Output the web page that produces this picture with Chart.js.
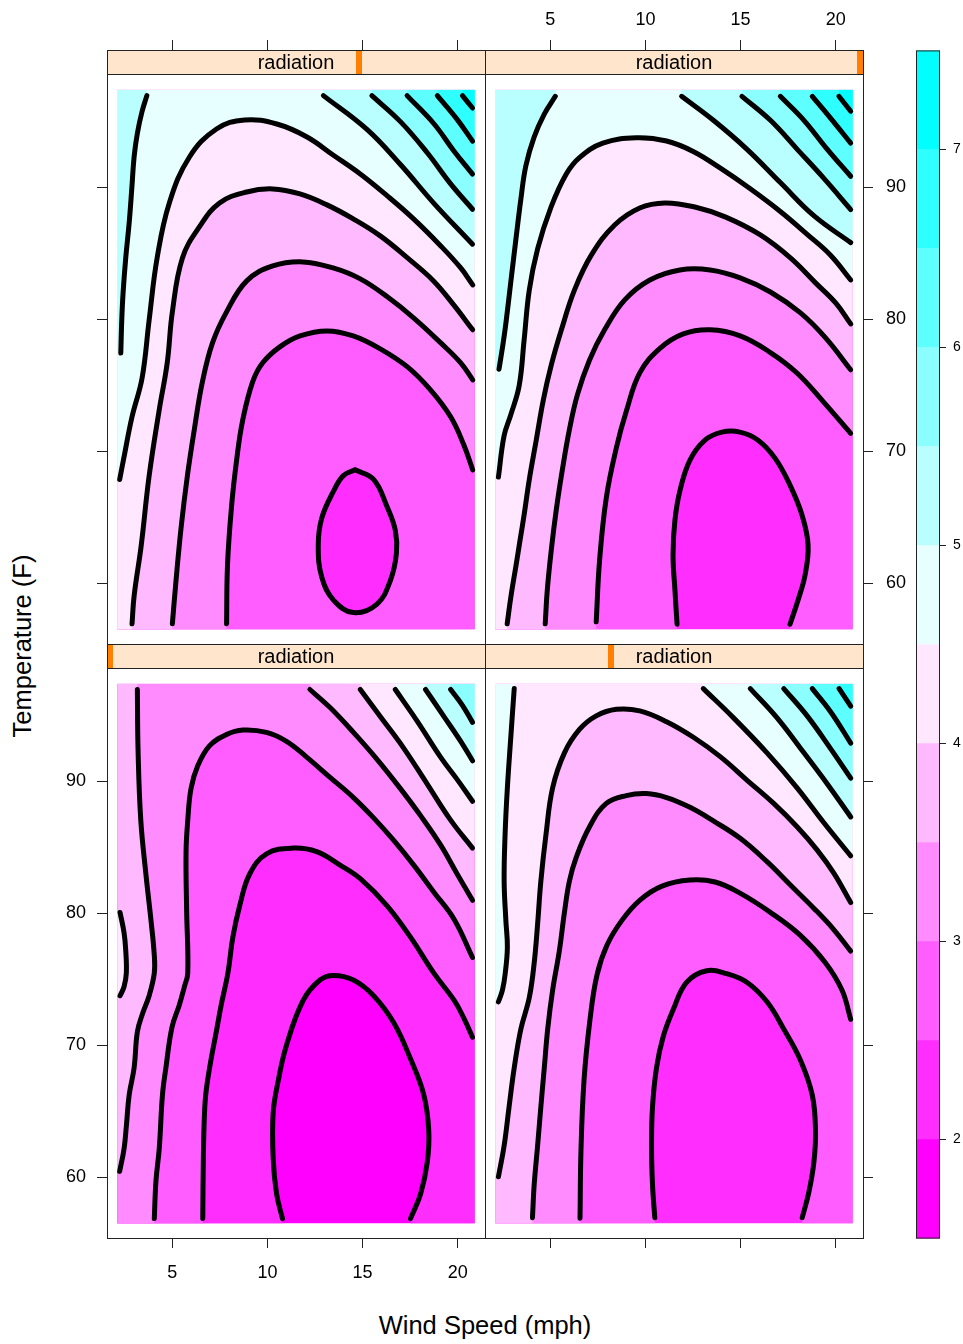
<!DOCTYPE html>
<html>
<head>
<meta charset="utf-8">
<script src="https://cdn.jsdelivr.net/npm/chart.js@4.4.0/dist/chart.umd.min.js"></script>
<style>
  html, body { margin: 0; padding: 0; background: #fff; }
  #page { position: relative; width: 963px; height: 1344px; overflow: hidden; background: #fff; }
  canvas { position: absolute; }
  .title { position: absolute; font-family: 'Liberation Sans', Arial, Helvetica, sans-serif; font-size: 25.5px; color: #000; white-space: nowrap; }
</style>
</head>
<body>
<div id="page">
  <canvas id="p-tl"></canvas>
  <canvas id="p-tr"></canvas>
  <canvas id="p-bl"></canvas>
  <canvas id="p-br"></canvas>
  <canvas id="key"></canvas>
  <div class="title" style="left:485px; top:1325px; transform:translate(-50%,-50%);">Wind Speed (mph)</div>
  <div class="title" style="left:22px; top:646px; transform:translate(-50%,-50%) rotate(-90deg);">Temperature (F)</div>
</div>
<script>
// Ozone contour levels by wind speed and temperature, four radiation panels

// Axis ticks and colour key
const WIND_TICKS = [5, 10, 15, 20];
const TEMP_TICKS = [60, 70, 80, 90];
const KEY_TICKS = [2, 3, 4, 5, 6, 7];
const LEVEL_BREAKS = [1.5, 2, 2.5, 3, 3.5, 4, 4.5, 5, 5.5, 6, 6.5, 7, 7.5];
const LEVEL_COLORS = ['#ff00ff', '#ff2eff', '#ff5dff', '#ff8bff', '#ffb9ff', '#ffe8ff',
                      '#e8ffff', '#b9ffff', '#8bffff', '#5dffff', '#2effff', '#00ffff'];

// Axis limits and extent of the fitted surface
const WIND_LIM = [1.564, 21.436];
const TEMP_LIM = [55.4, 98.6];
const GRID_WIND = [2.1, 20.9];
const GRID_TEMP = [56.5, 97.4];

// Radiation shingle (panel order: bottom-left, bottom-right, top-left, top-right)
const RADIATION_LIM = [7, 334];
const RADIATION_LEVELS = [7, 116, 225, 334];

// Contour lines, [wind, temperature]
// top-left panel
const TL_25 = [[14.61,68.60],[15.58,67.87],[16.29,65.80],[16.72,64.03],[16.78,62.27],[16.46,60.20],[15.76,58.43],[14.52,57.78],[13.47,58.73],[12.85,60.49],[12.67,62.86],[12.85,64.92],[13.47,66.98],[13.99,68.16]];
const TL_30 = [[7.85,56.93],[7.90,61.40],[8.11,65.80],[8.38,69.36],[8.69,72.31],[9.22,75.27],[9.75,76.71],[10.65,77.92],[11.71,78.75],[13.13,79.13],[14.51,78.75],[15.93,77.77],[17.36,76.40],[18.57,74.66],[19.63,72.62],[20.32,70.50],[20.79,68.60]];
const TL_35 = [[5.00,56.93],[5.21,60.50],[5.47,64.36],[5.79,68.15],[6.16,71.71],[6.58,75.27],[7.11,78.22],[7.85,80.57],[8.91,82.92],[10.28,84.05],[11.86,84.36],[13.45,83.90],[14.88,83.07],[16.30,81.71],[17.68,80.12],[19.11,78.22],[20.16,76.71],[20.79,75.42]];
const TL_40 = [[2.88,56.93],[2.99,59.05],[3.36,62.84],[3.78,68.15],[4.31,73.15],[4.73,76.71],[5.00,80.57],[5.53,84.66],[6.42,87.01],[7.48,88.83],[8.91,89.66],[10.28,89.89],[11.71,89.51],[13.13,88.68],[14.51,87.62],[15.93,86.33],[17.36,84.66],[18.73,82.92],[19.79,81.10],[20.79,79.21]];
const TL_45 = [[2.23,67.87],[2.43,69.36],[2.88,72.62],[3.41,75.57],[3.78,79.96],[4.20,84.66],[4.84,88.83],[5.90,92.31],[7.32,94.43],[8.80,95.12],[10.49,94.81],[12.08,93.83],[13.45,92.46],[14.88,91.02],[16.30,89.36],[17.68,87.62],[19.11,85.57],[20.16,83.90],[20.79,82.62]];
const TL_50A = [[3.66,96.96],[3.40,95.72],[3.16,94.10],[2.99,92.33],[2.87,89.97],[2.73,87.32],[2.55,84.67],[2.41,82.02],[2.34,79.95],[2.29,77.45]];
const TL_50B = [[12.94,96.96],[15.23,94.40],[16.99,91.74],[18.75,88.80],[20.78,85.70]];
const TL_55 = [[15.49,96.96],[16.99,94.99],[18.40,92.63],[19.63,90.27],[20.78,88.35]];
const TL_60 = [[17.34,96.96],[18.75,94.83],[19.80,92.77],[20.78,91.01]];
const TL_65 = [[18.93,96.96],[19.98,95.14],[20.78,93.51]];
const TL_70 = [[20.25,96.96],[20.78,96.02]];

// top-right panel
const TR_25 = [[11.66,56.90],[11.55,59.48],[11.45,62.13],[11.55,64.79],[11.82,67.06],[12.34,69.34],[13.13,70.85],[14.02,71.46],[14.97,71.46],[15.92,70.85],[16.81,69.49],[17.60,67.44],[18.23,65.17],[18.55,62.89],[18.39,60.62],[18.02,58.72],[17.60,56.90]];
const TR_30 = [[7.41,57.08],[7.59,61.78],[7.94,66.48],[8.47,70.27],[9.00,73.07],[9.70,75.95],[10.76,77.80],[11.99,78.90],[13.40,79.21],[14.98,78.75],[16.57,77.49],[17.98,75.92],[19.38,73.71],[20.79,71.36]];
const TR_35 = [[4.73,56.93],[4.84,59.51],[5.05,62.54],[5.31,65.57],[5.63,68.60],[6.00,71.63],[6.42,74.28],[7.06,76.93],[7.85,79.21],[8.91,81.48],[10.23,82.99],[11.81,83.75],[13.40,83.75],[14.98,83.15],[16.57,82.08],[18.15,80.49],[19.47,78.60],[20.79,76.18]];
const TR_40 = [[2.73,56.93],[2.94,59.13],[3.20,61.40],[3.41,63.30],[3.62,65.19],[3.89,67.84],[4.26,70.87],[4.63,73.90],[5.05,76.55],[5.58,79.21],[6.27,82.24],[7.16,84.89],[8.38,87.16],[9.70,88.45],[11.02,88.83],[12.60,88.52],[14.19,87.77],[16.04,86.40],[17.62,84.66],[18.94,82.77],[20.00,81.25],[20.79,79.66]];
const TR_45 = [[2.27,68.05],[2.57,71.20],[2.92,72.77],[3.36,74.97],[3.62,78.43],[3.89,82.20],[4.33,85.34],[5.03,88.49],[5.83,91.00],[6.53,92.26],[7.76,93.36],[9.52,93.77],[11.11,93.52],[12.51,92.73],[13.92,91.48],[15.51,89.90],[17.09,88.18],[18.50,86.45],[19.73,84.87],[20.79,82.99]];
const TR_50A = [[5.26,96.91],[4.68,95.56],[4.15,93.83],[3.71,91.63],[3.45,89.12],[3.18,85.97],[2.92,82.83],[2.66,79.68],[2.51,78.12],[2.30,76.23]];
const TR_50B = [[11.90,96.91],[13.57,95.09],[15.34,92.89],[17.09,90.37],[18.85,87.86],[20.79,85.82]];
const TR_55 = [[15.07,96.91],[16.57,95.09],[17.98,92.89],[19.38,90.69],[20.79,88.33]];
const TR_60 = [[17.09,96.91],[18.33,95.09],[19.56,92.89],[20.79,90.85]];
const TR_65 = [[18.77,96.91],[19.74,95.24],[20.79,93.36]];
const TR_70 = [[20.17,96.91],[20.79,95.78]];

// bottom-left panel
const BL_20 = [[10.79,56.87],[10.48,58.74],[10.30,61.47],[10.30,64.88],[10.56,67.27],[11.00,70.01],[11.88,73.42],[12.76,74.95],[13.47,75.30],[14.52,74.95],[15.58,73.76],[16.64,71.71],[17.52,68.98],[18.22,66.25],[18.48,63.52],[18.40,61.13],[18.05,58.74],[17.52,56.87]];
const BL_25 = [[6.60,56.87],[6.63,61.47],[6.69,64.88],[6.78,66.59],[7.04,68.98],[7.31,71.03],[7.57,73.08],[7.92,75.47],[8.18,78.20],[8.54,80.58],[9.06,82.97],[9.95,84.51],[11.35,84.95],[12.59,84.68],[13.82,83.66],[14.88,82.63],[16.29,80.58],[17.52,78.20],[18.75,75.47],[19.81,73.42],[20.33,72.05],[20.78,70.62]];
const BL_30 = [[4.05,56.87],[4.14,59.77],[4.31,62.16],[4.48,66.25],[4.66,68.30],[4.98,71.37],[5.37,73.08],[5.63,74.44],[5.81,75.47],[5.75,80.24],[5.72,84.68],[5.81,87.07],[5.98,89.46],[6.33,91.17],[6.95,92.70],[7.83,93.55],[8.71,93.90],[9.95,93.72],[11.00,93.04],[12.06,91.85],[13.29,90.31],[14.52,88.78],[15.58,87.24],[16.64,85.53],[17.69,83.66],[18.75,81.61],[19.81,79.56],[20.78,76.66]];
const BL_35A = [[3.16,96.97],[3.20,92.19],[3.34,87.07],[3.61,82.97],[3.87,79.56],[4.05,76.83],[4.05,75.47],[3.78,73.76],[3.43,72.40],[3.16,71.03],[2.99,68.30],[2.73,66.25],[2.58,63.86],[2.46,62.16],[2.23,60.45]];
const BL_35B = [[12.23,96.97],[13.29,95.60],[14.52,93.72],[15.76,91.68],[16.99,89.46],[18.05,87.41],[19.10,85.19],[19.98,82.97],[20.78,80.99]];
const BL_40A = [[2.25,80.07],[2.46,78.54],[2.55,77.17],[2.58,75.47],[2.46,74.44],[2.25,73.76]];
const BL_40B = [[14.88,96.97],[15.93,94.92],[17.16,92.53],[18.40,89.80],[19.63,87.07],[20.78,84.95]];
const BL_45 = [[16.72,96.97],[17.87,94.58],[19.10,91.85],[19.98,90.14],[20.78,88.50]];
const BL_50 = [[18.31,96.97],[19.28,94.92],[20.16,93.04],[20.78,91.57]];
const BL_55 = [[19.63,96.97],[20.25,95.77],[20.78,94.48]];

// bottom-right panel
const BR_25 = [[10.49,56.94],[10.37,59.45],[10.32,62.40],[10.37,65.34],[10.58,68.29],[10.93,70.65],[11.46,72.71],[12.16,74.78],[13.22,75.66],[14.28,75.43],[15.33,74.78],[16.39,73.30],[17.27,71.24],[18.15,68.88],[18.77,66.23],[18.94,63.58],[18.86,61.22],[18.59,58.86],[18.24,56.94]];
const BR_30 = [[6.56,56.90],[6.61,62.06],[6.77,67.36],[7.08,71.91],[7.45,75.32],[7.98,77.60],[8.77,79.49],[9.71,81.01],[10.87,82.07],[12.34,82.53],[13.66,82.38],[14.97,81.54],[16.55,80.10],[18.13,78.36],[19.44,76.30],[20.33,74.19],[20.79,71.98]];
const BR_35 = [[4.06,56.94],[4.15,59.45],[4.33,62.40],[4.50,65.34],[4.68,68.29],[4.86,71.24],[5.12,74.19],[5.47,77.14],[5.74,80.08],[6.00,82.44],[6.35,84.21],[7.06,86.57],[7.94,88.34],[8.99,88.93],[10.05,89.08],[11.11,88.78],[12.34,88.04],[13.57,87.01],[14.98,85.69],[16.39,83.92],[17.62,82.15],[18.86,80.38],[19.91,78.76],[20.79,77.14]];
const BR_40 = [[2.27,60.04],[2.57,62.40],[2.83,65.34],[3.10,68.29],[3.45,71.24],[3.89,73.60],[4.15,76.25],[4.33,79.20],[4.50,82.44],[4.77,85.98],[5.12,89.52],[5.74,92.17],[6.53,93.94],[7.41,94.97],[8.47,95.47],[9.70,95.35],[11.11,94.53],[12.52,93.35],[13.93,91.88],[15.33,90.11],[16.74,88.34],[17.97,86.57],[19.03,84.80],[19.91,83.03],[20.79,80.82]];
const BR_45A = [[3.10,97.04],[2.92,93.35],[2.74,89.52],[2.62,85.98],[2.57,82.44],[2.66,79.49],[2.74,77.43],[2.62,75.37],[2.48,74.19],[2.27,73.30]];
const BR_45B = [[13.04,97.04],[14.63,94.82],[16.39,92.17],[17.97,89.52],[19.38,86.87],[20.79,84.36]];
const BR_50 = [[15.51,97.04],[16.92,94.82],[18.33,92.17],[19.56,89.81],[20.79,87.31]];
const BR_55 = [[17.27,97.04],[18.50,94.97],[19.74,92.47],[20.79,90.25]];
const BR_60 = [[18.77,97.04],[19.74,95.27],[20.79,92.91]];
const BR_65 = [[20.18,97.04],[20.79,95.71]];

// Layout
const PANEL_W = 378, PANEL_H = 594, STRIP_PX = 24, GUTTER = 60, TICK_LEN = 10;
const COL_LEFT = [107, 485];
const ROW_TOP = [50, 644];
const KEY_AREA = { left: 916, top: 50, width: 24, height: 1188 };
const LABEL_PAD = { left: 11, right: 13, top: 9, bottom: 14 };
const OUT = ['tr', 'tl', 'bl'];
const ALL = ['br', 'tr', 'tl', 'bl'];

// panel order follows lattice: bottom-left first
const PANELS = [
    { id: 'p-bl', col: 0, row: 1, radiation: RADIATION_LEVELS[0], base: 1.5,
      axes: { left: 2, bottom: 2, top: 0, right: 0 },
      lines: [
          { pts: BL_20, level: 2, corners: ALL },
          { pts: BL_25, level: 2.5, corners: OUT },
          { pts: BL_30, level: 3, corners: OUT },
          { pts: BL_35A, level: 3.5, corners: ['tl'] },
          { pts: BL_35B, level: 3.5, corners: ['tr'] },
          { pts: BL_40A, level: 4, corners: [] },
          { pts: BL_40B, level: 4, corners: ['tr'] },
          { pts: BL_45, level: 4.5, corners: ['tr'] },
          { pts: BL_50, level: 5, corners: ['tr'] },
          { pts: BL_55, level: 5.5, corners: ['tr'] }
      ] },
    { id: 'p-br', col: 1, row: 1, radiation: RADIATION_LEVELS[1], base: 2,
      axes: { left: 0, bottom: 1, top: 0, right: 1 },
      lines: [
          { pts: BR_25, level: 2.5, corners: ALL },
          { pts: BR_30, level: 3, corners: OUT },
          { pts: BR_35, level: 3.5, corners: OUT },
          { pts: BR_40, level: 4, corners: ['tr', 'tl'] },
          { pts: BR_45A, level: 4.5, corners: ['tl'] },
          { pts: BR_45B, level: 4.5, corners: ['tr'] },
          { pts: BR_50, level: 5, corners: ['tr'] },
          { pts: BR_55, level: 5.5, corners: ['tr'] },
          { pts: BR_60, level: 6, corners: ['tr'] },
          { pts: BR_65, level: 6.5, corners: ['tr'] }
      ] },
    { id: 'p-tl', col: 0, row: 0, radiation: RADIATION_LEVELS[2], base: 2,
      axes: { left: 1, bottom: 0, top: 1, right: 0 },
      lines: [
          { pts: TL_25, level: 2.5, hole: true },
          { pts: TL_30, level: 3, corners: OUT },
          { pts: TL_35, level: 3.5, corners: OUT },
          { pts: TL_40, level: 4, corners: OUT },
          { pts: TL_45, level: 4.5, corners: ['tr', 'tl'] },
          { pts: TL_50A, level: 5, corners: ['tl'] },
          { pts: TL_50B, level: 5, corners: ['tr'] },
          { pts: TL_55, level: 5.5, corners: ['tr'] },
          { pts: TL_60, level: 6, corners: ['tr'] },
          { pts: TL_65, level: 6.5, corners: ['tr'] },
          { pts: TL_70, level: 7, corners: ['tr'] }
      ] },
    { id: 'p-tr', col: 1, row: 0, radiation: RADIATION_LEVELS[3], base: 2,
      axes: { left: 0, bottom: 0, top: 2, right: 2 },
      lines: [
          { pts: TR_25, level: 2.5, corners: ALL },
          { pts: TR_30, level: 3, corners: OUT },
          { pts: TR_35, level: 3.5, corners: OUT },
          { pts: TR_40, level: 4, corners: OUT },
          { pts: TR_45, level: 4.5, corners: ['tr', 'tl'] },
          { pts: TR_50A, level: 5, corners: ['tl'] },
          { pts: TR_50B, level: 5, corners: ['tr'] },
          { pts: TR_55, level: 5.5, corners: ['tr'] },
          { pts: TR_60, level: 6, corners: ['tr'] },
          { pts: TR_65, level: 6.5, corners: ['tr'] },
          { pts: TR_70, level: 7, corners: ['tr'] }
      ] }
];

Chart.defaults.font.family = "'Liberation Sans', Arial, Helvetica, sans-serif";
Chart.defaults.color = '#000';
Chart.defaults.animation = false;

function bandColor(level) {
    return LEVEL_COLORS[LEVEL_BREAKS.indexOf(level)];
}

// Filled level regions, painted from the lowest band upward
const contourFill = {
    id: 'contourFill',
    beforeDatasetsDraw(chart, args, opts) {
        const def = opts.def;
        if (!def) return;
        const ctx = chart.ctx;
        const xs = chart.scales.x, ys = chart.scales.y;
        const r = {
            l: xs.getPixelForValue(GRID_WIND[0]), r: xs.getPixelForValue(GRID_WIND[1]),
            t: ys.getPixelForValue(GRID_TEMP[1]), b: ys.getPixelForValue(GRID_TEMP[0])
        };
        const corner = { tl: [r.l, r.t], tr: [r.r, r.t], br: [r.r, r.b], bl: [r.l, r.b] };
        const snap = p => {
            const d = [Math.abs(p.x - r.l), Math.abs(p.x - r.r), Math.abs(p.y - r.t), Math.abs(p.y - r.b)];
            const k = d.indexOf(Math.min(...d));
            return [[r.l, p.y], [r.r, p.y], [p.x, r.t], [p.x, r.b]][k];
        };

        ctx.save();
        ctx.beginPath();
        ctx.rect(r.l, r.t, r.r - r.l, r.b - r.t);
        ctx.clip();
        ctx.fillStyle = bandColor(def.base);
        ctx.fillRect(r.l, r.t, r.r - r.l, r.b - r.t);

        const order = def.lines.map((l, i) => i).sort((a, b) => def.lines[a].level - def.lines[b].level);
        order.forEach(i => {
            const line = def.lines[i];
            const meta = chart.getDatasetMeta(i);
            meta.dataset.updateControlPoints(chart.chartArea, meta.iScale.axis);
            const pts = meta.data;
            ctx.beginPath();
            if (line.hole) ctx.rect(r.l, r.t, r.r - r.l, r.b - r.t);
            ctx.moveTo(pts[0].x, pts[0].y);
            for (let k = 1; k < pts.length; k++) {
                const a = pts[k - 1], b = pts[k];
                if (a.cp2x === undefined || b.cp1x === undefined) {
                    ctx.lineTo(b.x, b.y);
                } else {
                    ctx.bezierCurveTo(a.cp2x, a.cp2y, b.cp1x, b.cp1y, b.x, b.y);
                }
            }
            if (!line.hole) {
                const e = snap(pts[pts.length - 1]);
                ctx.lineTo(e[0], e[1]);
                line.corners.forEach(c => ctx.lineTo(corner[c][0], corner[c][1]));
                const s = snap(pts[0]);
                ctx.lineTo(s[0], s[1]);
            }
            ctx.closePath();
            ctx.fillStyle = bandColor(line.level);
            ctx.fill(line.hole ? 'evenodd' : 'nonzero');
        });
        ctx.restore();
    }
};

// Strip with shingle marker, and the panel box
const panelDecor = {
    id: 'panelDecor',
    afterDraw(chart, args, opts) {
        const def = opts.def;
        if (!def) return;
        const ctx = chart.ctx;
        const { left, right, top, bottom } = chart.chartArea;
        const w = right - left;
        const stripBottom = Math.round(chart.scales.y.getPixelForValue(TEMP_LIM[1]));
        ctx.save();
        ctx.fillStyle = '#ffe5cc';
        ctx.fillRect(left, top, w, stripBottom - top);

        const frac = (def.radiation - RADIATION_LIM[0]) / (RADIATION_LIM[1] - RADIATION_LIM[0]);
        let bx = Math.round(left + frac * w - 3);
        bx = Math.max(left, Math.min(right - 6, bx));
        ctx.fillStyle = '#ff7f00';
        ctx.fillRect(bx, top, 6, stripBottom - top);

        ctx.fillStyle = '#000';
        ctx.font = "20px 'Liberation Sans', Arial, sans-serif";
        ctx.textAlign = 'center';
        ctx.textBaseline = 'middle';
        ctx.fillText('radiation', left + w / 2, (top + stripBottom) / 2 + 1);

        ctx.strokeStyle = '#222';
        ctx.lineWidth = 1;
        ctx.beginPath();
        ctx.moveTo(left, stripBottom + 0.5);
        ctx.lineTo(right, stripBottom + 0.5);
        ctx.stroke();
        ctx.strokeRect(left + 0.5, top + 0.5, w, bottom - top);
        ctx.restore();
    }
};

function makeAxis(side, lim, ticks, show) {
    const horizontal = side === 'top' || side === 'bottom';
    return {
        type: 'linear',
        axis: horizontal ? 'x' : 'y',
        position: side,
        min: lim[0],
        max: lim[1],
        afterBuildTicks: s => { s.ticks = ticks.map(v => ({ value: v })); },
        afterFit: s => { if (horizontal) s.height = GUTTER; else s.width = GUTTER; },
        grid: { display: show > 0, drawOnChartArea: false, drawTicks: true, tickLength: TICK_LEN, color: '#222', lineWidth: 1 },
        border: { display: false },
        ticks: { display: show > 1, padding: LABEL_PAD[side], font: { size: 18 }, color: '#000', autoSkip: false, maxRotation: 0, minRotation: 0 }
    };
}

// Build a chart, then size and move its canvas so the chart area lands on `area`
function placeChart(canvas, makeConfig, area) {
    let chart = new Chart(canvas, makeConfig());
    let ca = chart.chartArea;
    const dw = Math.round(area.width - (ca.right - ca.left));
    const dh = Math.round(area.height - (ca.bottom - ca.top));
    if (dw !== 0 || dh !== 0) {
        const w = canvas.width + dw, h = canvas.height + dh;
        chart.destroy();
        canvas.width = w;
        canvas.height = h;
        chart = new Chart(canvas, makeConfig());
        ca = chart.chartArea;
    }
    canvas.style.left = (area.left - ca.left) + 'px';
    canvas.style.top = (area.top - ca.top) + 'px';
    return chart;
}

function createPanel(def) {
    const canvas = document.getElementById(def.id);
    canvas.width = PANEL_W + 2 * GUTTER;
    canvas.height = PANEL_H + 2 * GUTTER;

    // temperature value at the top of the box (strip sits above the data region)
    const boxTop = TEMP_LIM[1] + STRIP_PX * (TEMP_LIM[1] - TEMP_LIM[0]) / (PANEL_H - STRIP_PX);
    const tempBox = [TEMP_LIM[0], boxTop];

    const makeConfig = () => ({
        type: 'line',
        data: {
            datasets: def.lines.map(line => {
                const pts = line.hole ? line.pts.concat([line.pts[0]]) : line.pts;
                return {
                    label: 'level ' + line.level,
                    data: pts.map(p => ({ x: p[0], y: p[1] })),
                    xAxisID: 'x',
                    yAxisID: 'y',
                    borderColor: '#000',
                    borderWidth: 5,
                    borderCapStyle: 'round',
                    borderJoinStyle: 'round',
                    tension: 0.4,
                    pointRadius: 0,
                    pointHoverRadius: 0,
                    fill: false
                };
            })
        },
        options: {
            responsive: false,
            maintainAspectRatio: false,
            animation: false,
            events: [],
            layout: { padding: 0 },
            plugins: {
                legend: { display: false },
                tooltip: { enabled: false },
                contourFill: { def: def },
                panelDecor: { def: def }
            },
            scales: {
                x: makeAxis('bottom', WIND_LIM, WIND_TICKS, def.axes.bottom),
                x2: makeAxis('top', WIND_LIM, WIND_TICKS, def.axes.top),
                y: makeAxis('left', tempBox, TEMP_TICKS, def.axes.left),
                y2: makeAxis('right', tempBox, TEMP_TICKS, def.axes.right)
            }
        },
        plugins: [contourFill, panelDecor]
    });

    return placeChart(canvas, makeConfig, {
        left: COL_LEFT[def.col], top: ROW_TOP[def.row], width: PANEL_W, height: PANEL_H
    });
}

PANELS.forEach(createPanel);

// Colour key
const keyBox = {
    id: 'keyBox',
    afterDraw(chart) {
        const { left, right, top, bottom } = chart.chartArea;
        const ctx = chart.ctx;
        ctx.save();
        ctx.strokeStyle = '#222';
        ctx.lineWidth = 1;
        ctx.strokeRect(left + 0.5, top + 0.5, right - left - 1, bottom - top - 1);
        ctx.restore();
    }
};

function createKey() {
    const canvas = document.getElementById('key');
    const keyAxis = 40, pad = 10;
    canvas.width = KEY_AREA.width + keyAxis;
    canvas.height = KEY_AREA.height + 2 * pad;

    const makeConfig = () => ({
        type: 'bar',
        data: {
            labels: ['key'],
            datasets: LEVEL_COLORS.map((c, i) => ({
                label: LEVEL_BREAKS[i] + '-' + LEVEL_BREAKS[i + 1],
                data: [[LEVEL_BREAKS[i], LEVEL_BREAKS[i + 1]]],
                backgroundColor: c,
                borderWidth: 0,
                grouped: false,
                barPercentage: 1,
                categoryPercentage: 1
            }))
        },
        options: {
            responsive: false,
            animation: false,
            events: [],
            layout: { padding: { top: pad, bottom: pad, left: 0, right: 0 } },
            plugins: { legend: { display: false }, tooltip: { enabled: false } },
            scales: {
                x: { display: false },
                y: {
                    position: 'right',
                    min: LEVEL_BREAKS[0],
                    max: LEVEL_BREAKS[LEVEL_BREAKS.length - 1],
                    afterBuildTicks: s => { s.ticks = KEY_TICKS.map(v => ({ value: v })); },
                    afterFit: s => { s.width = keyAxis; },
                    grid: { drawOnChartArea: false, drawTicks: true, tickLength: 6, color: '#222' },
                    border: { display: false },
                    ticks: { padding: 7, font: { size: 14 }, color: '#000' }
                }
            }
        },
        plugins: [keyBox]
    });

    return placeChart(canvas, makeConfig, KEY_AREA);
}

createKey();
</script>
</body>
</html>
